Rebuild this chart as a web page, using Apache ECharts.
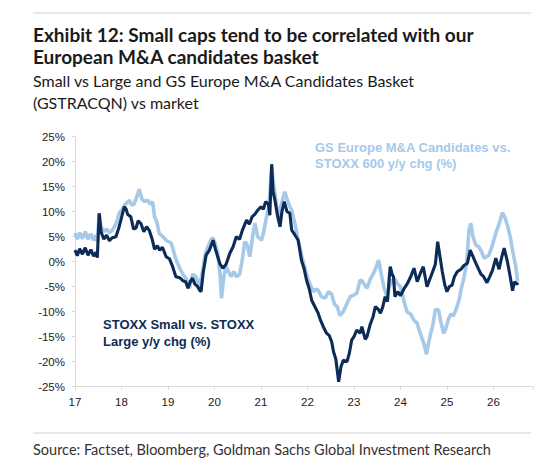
<!DOCTYPE html>
<html>
<head>
<meta charset="utf-8">
<script src="https://cdn.jsdelivr.net/npm/echarts@6/dist/echarts.min.js"></script>
<style>
  html, body { margin: 0; padding: 0; background: #fff; }
  #chart { width: 552px; height: 473px; }
</style>
</head>
<body>
<div id="chart"></div>
<script>
// year ticks shown on the x axis
var yearTicks = [17, 18, 19, 20, 21, 22, 23, 24, 25, 26];
var yTicks = [-25, -20, -15, -10, -5, 0, 5, 10, 15, 20, 25];

// STOXX Small vs. STOXX Large y/y chg (%)
var smallDates = [17.00,17.05,17.10,17.16,17.22,17.28,17.34,17.40,17.45,17.48,17.52,17.56,17.62,17.68,17.74,17.80,17.88,17.95,
  18.00,18.06,18.10,18.13,18.20,18.26,18.31,18.36,18.42,18.48,18.54,18.60,18.66,18.71,18.77,18.82,18.88,18.96,
  19.03,19.10,19.17,19.25,19.32,19.38,19.43,19.48,19.53,19.58,19.64,19.68,19.71,19.76,19.82,19.89,19.97,
  20.02,20.07,20.12,20.18,20.25,20.33,20.40,20.47,20.54,20.60,20.69,20.75,20.81,20.87,20.93,
  21.00,21.05,21.10,21.16,21.19,21.23,21.26,21.30,21.36,21.41,21.45,21.50,21.56,21.62,21.66,21.72,21.80,21.87,21.93,21.98,
  22.04,22.09,22.16,22.23,22.28,22.34,22.41,22.47,22.52,22.56,22.61,22.67,22.72,22.77,22.85,22.90,22.95,
  23.00,23.06,23.13,23.17,23.24,23.28,23.35,23.41,23.46,23.52,23.57,23.62,23.67,23.72,23.76,23.78,23.82,23.85,23.88,23.94,
  24.00,24.07,24.14,24.22,24.29,24.36,24.42,24.49,24.53,24.57,24.63,24.68,24.75,24.80,24.85,24.90,24.95,
  25.00,25.05,25.11,25.16,25.22,25.30,25.37,25.44,25.50,25.56,25.62,25.68,25.73,25.79,25.86,25.92,25.98,
  26.05,26.12,26.18,26.23,26.30,26.36,26.41,26.45,26.50,26.53];
var smallVals = [2.3,1.2,2.6,1.5,2.8,1.3,2.4,1.1,1.9,0.8,9.7,6.0,4.5,5.3,4.2,4.8,5.0,7.0,
  8.8,11.0,10.5,9.5,9.0,6.5,6.7,8.2,7.6,6.0,7.0,6.2,4.5,2.5,3.2,2.3,2.9,1.0,
  0.6,-1.0,-3.0,-3.2,-3.8,-4.0,-5.3,-4.0,-3.3,-4.5,-5.0,-5.7,-6.0,-2.0,1.3,2.3,4.3,
  2.5,1.0,-0.5,-1.3,-0.5,1.7,3.0,5.0,4.5,6.3,8.3,7.5,9.0,9.5,10.3,
  11.0,10.5,12.0,11.5,9.3,19.5,14.0,12.3,9.0,7.0,10.0,12.0,10.0,9.7,6.3,5.5,4.3,0.3,-1.5,-3.7,
  -5.5,-7.7,-9.0,-10.3,-11.7,-13.0,-14.3,-14.8,-16.0,-18.0,-19.5,-24.0,-21.0,-19.7,-20.0,-18.3,-15.7,
  -15.0,-13.7,-14.3,-13.0,-15.5,-15.0,-12.5,-11.0,-9.0,-9.5,-10.3,-9.0,-7.0,-8.0,-3.0,-1.0,-2.5,-3.0,-7.0,-6.0,
  -6.8,-5.5,-4.5,-3.0,-1.3,-4.0,-2.5,-1.0,-3.0,-5.0,-3.5,-2.3,-0.5,4.0,1.0,-2.0,-4.5,
  -6.0,-5.0,-4.7,-3.0,-2.0,-1.5,-0.7,-0.3,2.3,1.0,-0.3,-1.5,-2.5,-3.0,-4.2,-3.0,-1.7,
  0.7,-1.5,1.0,2.7,0.0,-3.0,-5.8,-4.0,-4.5,-4.2];

// GS Europe M&A Candidates vs. STOXX 600 y/y chg (%)
var maDates = [17.00,17.05,17.10,17.16,17.22,17.28,17.34,17.40,17.45,17.48,17.52,17.56,17.62,17.68,17.74,17.80,17.88,17.95,
  18.02,18.08,18.17,18.22,18.27,18.33,18.38,18.44,18.50,18.56,18.62,18.67,18.71,18.76,18.81,18.89,18.96,
  19.07,19.17,19.25,19.32,19.40,19.46,19.53,19.60,19.68,19.74,19.80,19.86,19.93,19.97,
  20.02,20.07,20.12,20.15,20.20,20.25,20.30,20.36,20.42,20.47,20.54,20.60,20.65,20.70,20.76,20.83,20.87,20.93,
  21.01,21.06,21.12,21.17,21.23,21.27,21.30,21.37,21.44,21.51,21.56,21.62,21.66,21.72,21.80,21.88,21.98,
  22.02,22.08,22.13,22.18,22.23,22.30,22.38,22.45,22.52,22.58,22.64,22.70,22.77,22.85,22.92,22.99,
  23.06,23.13,23.17,23.22,23.28,23.35,23.42,23.48,23.53,23.57,23.64,23.71,23.76,23.82,23.88,23.94,
  24.00,24.07,24.14,24.22,24.29,24.36,24.40,24.45,24.50,24.56,24.60,24.65,24.70,24.75,24.82,24.86,24.93,24.97,
  25.03,25.08,25.14,25.19,25.26,25.30,25.37,25.42,25.47,25.51,25.56,25.62,25.68,25.73,25.80,25.85,25.90,25.96,
  26.05,26.12,26.19,26.24,26.30,26.36,26.41,26.48,26.52];
var maVals = [5.7,4.5,5.8,4.6,6.0,4.5,5.6,4.3,5.3,4.0,9.5,7.0,6.0,6.5,5.8,6.3,7.5,9.7,
  10.5,11.5,12.3,11.3,11.5,13.0,14.5,12.5,12.0,12.3,11.5,12.0,9.0,8.0,5.7,5.0,4.3,
  3.7,0.5,-1.3,-2.5,-3.5,-5.3,-2.5,-3.0,-5.0,-2.0,1.5,3.0,4.5,4.7,
  3.5,1.7,-2.5,-7.3,-3.0,-1.0,-2.0,-3.0,-2.0,-3.0,-2.5,0.5,4.0,3.5,1.0,5.7,7.7,5.0,
  4.3,6.0,9.0,11.0,19.0,15.5,13.7,9.0,11.5,14.0,12.5,11.0,10.3,8.0,4.3,1.0,-2.5,
  -3.7,-5.0,-6.0,-5.5,-5.7,-7.0,-7.3,-6.0,-6.5,-8.5,-9.0,-10.8,-10.0,-8.3,-7.0,-6.7,
  -6.3,-3.7,-3.8,-4.5,-5.3,-3.5,-2.3,-1.0,0.3,-1.7,-5.0,-7.0,-5.0,-3.7,-3.5,-4.5,
  -5.0,-7.7,-10.0,-10.5,-11.7,-12.3,-13.7,-15.0,-16.3,-18.5,-16.5,-14.3,-12.5,-9.5,-9.7,-11.7,-14.3,-13.5,
  -11.5,-10.5,-10.8,-9.7,-7.7,-5.7,-3.0,-0.5,6.0,7.7,5.0,3.3,3.0,2.3,0.7,1.0,1.3,2.8,
  5.7,7.5,9.8,9.0,7.3,5.0,2.3,-1.0,-4.0];

var darkBlue = '#0c2c57';
var lightBlue = '#a6c9e8';
var gridCol = '#d9d9d9';

function pairs(xs, ys) {
  return xs.map(function (x, i) { return [x, ys[i]]; });
}

var chart = echarts.init(document.getElementById('chart'), null, { renderer: 'svg' });

var titleFont = 'Lato, "Noto Sans", sans-serif';
var chartFont = '"Liberation Sans", Arial, sans-serif';

var option = {
  animation: false,
  textStyle: { fontFamily: chartFont },
  grid: { left: 75, right: 19, top: 136.7, bottom: 86.3, containLabel: false },
  xAxis: [{
    type: 'value', min: 17, max: 26.85, interval: 1,
    axisLine: { show: false },
    axisTick: { show: false },
    splitLine: { show: false },
    axisLabel: {
      color: '#222', fontSize: 11.5, margin: 9,
      formatter: function (v) { return yearTicks.indexOf(v) >= 0 ? String(v) : ''; }
    }
  }, {
    type: 'value', min: 17, max: 26.85, interval: 1, position: 'bottom',
    axisLine: { show: true, onZero: true, lineStyle: { color: gridCol, width: 1 } },
    axisTick: { show: true, length: 3, lineStyle: { color: gridCol } },
    axisLabel: { show: false },
    splitLine: { show: false }
  }],
  yAxis: {
    type: 'value', min: yTicks[0], max: yTicks[yTicks.length - 1], interval: 5,
    axisLine: { show: true, lineStyle: { color: gridCol } },
    axisTick: { show: true, length: 3, lineStyle: { color: gridCol } },
    splitLine: { show: false },
    axisLabel: { color: '#222', fontSize: 11.5, margin: 10, formatter: '{value}%' }
  },
  series: [{
    name: 'GS Europe M&A Candidates vs. STOXX 600 y/y chg (%)',
    type: 'line', xAxisIndex: 0, showSymbol: false,
    data: pairs(maDates, maVals),
    lineStyle: { color: lightBlue, width: 3.6 },
    itemStyle: { color: lightBlue },
    z: 2
  }, {
    name: 'STOXX Small vs. STOXX Large y/y chg (%)',
    type: 'line', xAxisIndex: 0, showSymbol: false,
    data: pairs(smallDates, smallVals),
    lineStyle: { color: darkBlue, width: 3.1 },
    itemStyle: { color: darkBlue },
    z: 3
  }],
  graphic: [
    { type: 'line', shape: { x1: 33, y1: 13, x2: 531, y2: 13 }, style: { stroke: '#cfcfcf', lineWidth: 1 } },
    { type: 'text', left: 33, top: 25, style: { text: 'Exhibit 12: Small caps tend to be correlated with our', font: 'bold 19px ' + titleFont, fill: '#1a1a1a' } },
    { type: 'text', left: 33, top: 47, style: { text: 'European M&A candidates basket', font: 'bold 19px ' + titleFont, fill: '#1a1a1a' } },
    { type: 'text', left: 33, top: 72.5, style: { text: 'Small vs Large and GS Europe M&A Candidates Basket', font: '16px ' + titleFont, fill: '#1a1a1a' } },
    { type: 'text', left: 33, top: 94.5, style: { text: '(GSTRACQN) vs market', font: '16px ' + titleFont, fill: '#1a1a1a' } },
    { type: 'text', left: 315, top: 139.5, style: { text: 'GS Europe M&A Candidates vs.\nSTOXX 600 y/y chg (%)', font: 'bold 13px ' + chartFont, fill: lightBlue, lineHeight: 16 } },
    { type: 'text', left: 103, top: 315.5, style: { text: 'STOXX Small vs. STOXX\nLarge y/y chg (%)', font: 'bold 13px ' + chartFont, fill: darkBlue, lineHeight: 17 } },
    { type: 'line', shape: { x1: 33, y1: 433, x2: 531, y2: 433 }, style: { stroke: '#cfcfcf', lineWidth: 1 } },
    { type: 'text', left: 33, top: 441.5, style: { text: 'Source: Factset, Bloomberg, Goldman Sachs Global Investment Research', font: '14.5px ' + titleFont, fill: '#333' } }
  ]
};

chart.setOption(option);
</script>
</body>
</html>
